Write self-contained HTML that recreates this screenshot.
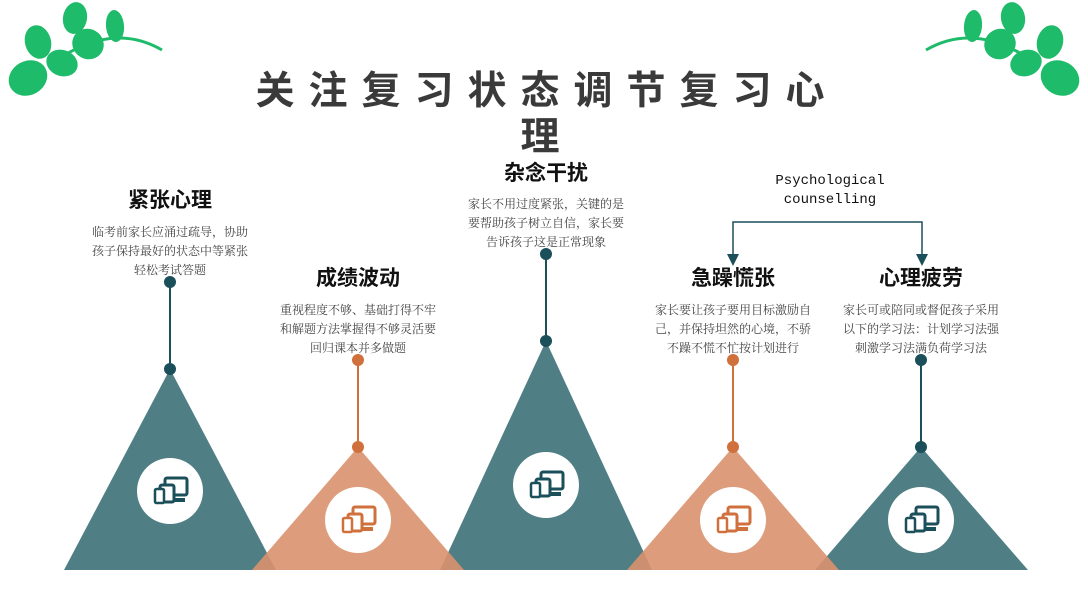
<!DOCTYPE html>
<html><head><meta charset="utf-8"><style>
html,body{margin:0;padding:0;background:#fff}
svg{display:block}
.t{font-family:"Liberation Serif","Noto Serif CJK SC",serif;font-size:12px;fill:#444;text-anchor:middle}
.h{font-family:"Liberation Sans","Noto Sans CJK SC",sans-serif;font-size:21px;font-weight:bold;fill:#111;text-anchor:middle}
.ti{font-family:"Liberation Sans","Noto Sans CJK SC",sans-serif;font-size:39px;font-weight:bold;fill:#3a3a3a;text-anchor:middle;letter-spacing:14px}
.m{font-family:"Liberation Mono",monospace;font-size:14px;fill:#111;text-anchor:middle}
</style></head><body>
<svg width="1088" height="612" viewBox="0 0 1088 612" xmlns="http://www.w3.org/2000/svg">
<defs>
<g id="cl" fill="#1dbb6a">
<path d="M50,65 Q110,20 162,50" stroke="#1dbb6a" stroke-width="3" fill="none"/>
<ellipse cx="28" cy="78" rx="20" ry="17" transform="rotate(-30 28 78)"/>
<ellipse cx="38" cy="42" rx="13" ry="17" transform="rotate(-15 38 42)"/>
<ellipse cx="62" cy="63" rx="16" ry="13" transform="rotate(20 62 63)"/>
<ellipse cx="75" cy="18" rx="12" ry="16" transform="rotate(10 75 18)"/>
<ellipse cx="88" cy="44" rx="16" ry="15" transform="rotate(30 88 44)"/>
<ellipse cx="115" cy="26" rx="9" ry="16" transform="rotate(-5 115 26)"/>
</g>
<g id="ic">
<rect x="-7" y="-12" width="22" height="17" rx="2" fill="none" stroke="currentColor" stroke-width="3"/>
<rect x="-12" y="-5" width="14" height="17" rx="2" fill="#fff" stroke="currentColor" stroke-width="3"/>
<rect x="-17" y="-1" width="9" height="14" rx="1.5" fill="#fff" stroke="currentColor" stroke-width="2.5"/>
<rect x="3" y="8" width="10" height="4" fill="currentColor"/>
</g>
</defs>
<use href="#cl"/>
<use href="#cl" transform="translate(1088,0) scale(-1,1)"/>
<text class="ti" x="547" y="104">关注复习状态调节复习心</text>
<text class="ti" x="547" y="150">理</text>

<g>
<polygon points="170,369 64,570 276,570" fill="#4f7f85"/>
<polygon points="546,341 440,570 652,570" fill="#4f7f85"/>
<polygon points="921,447 815,570 1028,570" fill="#4f7f85"/>
<polygon points="358,447 252,570 464,570" fill="#d9926e" fill-opacity="0.9"/>
<polygon points="733,447 627,570 839,570" fill="#d9926e" fill-opacity="0.9"/>
</g>
<g stroke-width="2">
<line x1="170" y1="282" x2="170" y2="369" stroke="#1b4f5a"/>
<line x1="546" y1="254" x2="546" y2="341" stroke="#1b4f5a"/>
<line x1="921" y1="360" x2="921" y2="447" stroke="#1b4f5a"/>
<line x1="358" y1="360" x2="358" y2="447" stroke="#d0703c"/>
<line x1="733" y1="360" x2="733" y2="447" stroke="#d0703c"/>
</g>
<g fill="#1b4f5a"><circle cx="170" cy="282" r="6"/><circle cx="170" cy="369" r="6"/><circle cx="546" cy="254" r="6"/><circle cx="546" cy="341" r="6"/><circle cx="921" cy="360" r="6"/><circle cx="921" cy="447" r="6"/></g>
<g fill="#d0703c"><circle cx="358" cy="360" r="6"/><circle cx="358" cy="447" r="6"/><circle cx="733" cy="360" r="6"/><circle cx="733" cy="447" r="6"/></g>
<g fill="#fff"><circle cx="170" cy="491" r="33"/><circle cx="358" cy="520" r="33"/><circle cx="546" cy="485" r="33"/><circle cx="733" cy="520" r="33"/><circle cx="921" cy="520" r="33"/></g>
<use href="#ic" x="172" y="490" style="color:#1b4f5a"/>
<use href="#ic" x="360" y="519" style="color:#d0703c"/>
<use href="#ic" x="548" y="484" style="color:#1b4f5a"/>
<use href="#ic" x="735" y="519" style="color:#d0703c"/>
<use href="#ic" x="923" y="519" style="color:#1b4f5a"/>

<text class="h" x="170" y="207">紧张心理</text>
<text class="t" x="170" y="236">临考前家长应涌过疏导，协助</text>
<text class="t" x="170" y="255">孩子保持最好的状态中等紧张</text>
<text class="t" x="170" y="274">轻松考试答题</text>

<text class="h" x="358" y="285">成绩波动</text>
<text class="t" x="358" y="314">重视程度不够、基础打得不牢</text>
<text class="t" x="358" y="333">和解题方法掌握得不够灵活要</text>
<text class="t" x="358" y="352">回归课本并多做题</text>

<text class="h" x="546" y="180">杂念干扰</text>
<text class="t" x="546" y="208">家长不用过度紧张，关键的是</text>
<text class="t" x="546" y="227">要帮助孩子树立自信，家长要</text>
<text class="t" x="546" y="246">告诉孩子这是正常现象</text>

<text class="h" x="733" y="285">急躁慌张</text>
<text class="t" x="733" y="314">家长要让孩子要用目标激励自</text>
<text class="t" x="733" y="333">己，并保持坦然的心境，不骄</text>
<text class="t" x="733" y="352">不躁不慌不忙按计划进行</text>

<text class="h" x="921" y="285">心理疲劳</text>
<text class="t" x="921" y="314">家长可或陪同或督促孩子采用</text>
<text class="t" x="921" y="333">以下的学习法：计划学习法强</text>
<text class="t" x="921" y="352">刺激学习法满负荷学习法</text>

<text class="m" x="830" y="184">Psychological</text>
<text class="m" x="830" y="203">counselling</text>
<path d="M733,258 V222 H922 V258" fill="none" stroke="#1b4f5a" stroke-width="1.5"/>
<polygon points="727,254 739,254 733,266" fill="#1b4f5a"/>
<polygon points="916,254 928,254 922,266" fill="#1b4f5a"/>
</svg>
</body></html>
